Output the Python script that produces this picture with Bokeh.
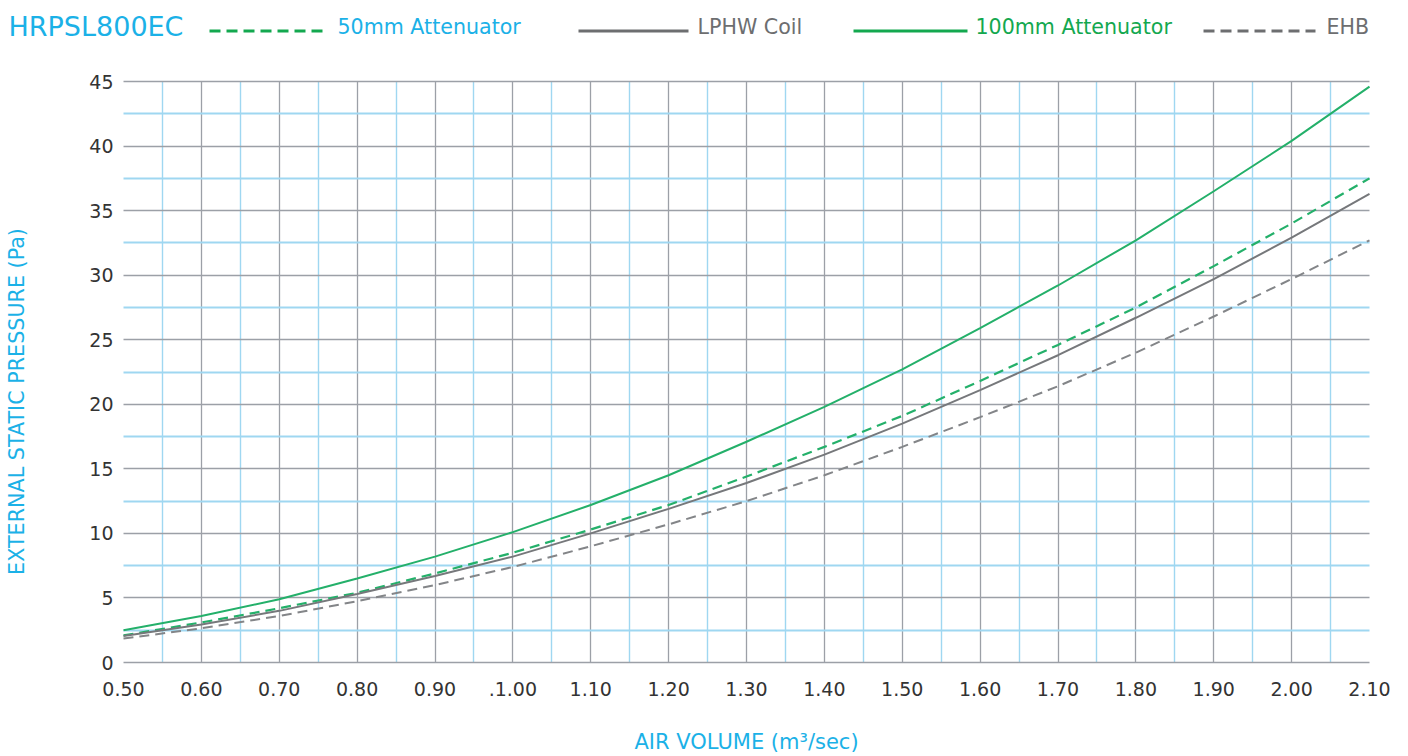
import math
from bokeh.plotting import figure
from bokeh.models import Range1d, FixedTicker
from bokeh.embed import file_html
from bokeh.resources import INLINE
from bokeh.core.properties import value

# ---------------- data ----------------
title_text = "HRPSL800EC"
series_names = ["50mm Attenuator", "LPHW Coil", "100mm Attenuator", "EHB"]

air_volume = [0.50, 0.60, 0.70, 0.80, 0.90, 1.00, 1.10, 1.20, 1.30,
              1.40, 1.50, 1.60, 1.70, 1.80, 1.90, 2.00, 2.10]
att_50mm = [2.1, 3.1, 4.2, 5.4, 6.9, 8.5, 10.3, 12.2, 14.4,
            16.7, 19.1, 21.8, 24.6, 27.5, 30.7, 34.0, 37.5]
lphw_coil = [2.05, 2.95, 4.0, 5.3, 6.7, 8.2, 10.0, 11.9, 13.9,
             16.1, 18.5, 21.1, 23.8, 26.7, 29.7, 32.9, 36.3]
att_100mm = [2.5, 3.6, 4.9, 6.5, 8.2, 10.1, 12.2, 14.5, 17.1,
             19.8, 22.7, 25.9, 29.2, 32.7, 36.5, 40.4, 44.6]
ehb = [1.85, 2.65, 3.6, 4.75, 6.0, 7.4, 9.0, 10.7, 12.5,
       14.5, 16.7, 19.0, 21.4, 24.0, 26.8, 29.7, 32.7]

x_ticks = [0.5, 0.6, 0.7, 0.8, 0.9, 1.0, 1.1, 1.2, 1.3, 1.4, 1.5, 1.6,
           1.7, 1.8, 1.9, 2.0, 2.1]
x_tick_labels = ["0.50", "0.60", "0.70", "0.80", "0.90", ".1.00", "1.10",
                 "1.20", "1.30", "1.40", "1.50", "1.60", "1.70", "1.80",
                 "1.90", "2.00", "2.10"]
x_grid_major = [0.6, 0.7, 0.8, 0.9, 1.0, 1.1, 1.2, 1.3, 1.4, 1.5, 1.6,
                1.7, 1.8, 1.9, 2.0]
x_grid_minor = [0.55, 0.65, 0.75, 0.85, 0.95, 1.05, 1.15, 1.25, 1.35,
                1.45, 1.55, 1.65, 1.75, 1.85, 1.95, 2.05]
y_ticks = [0, 5, 10, 15, 20, 25, 30, 35, 40, 45]
y_grid_minor = [2.5, 7.5, 12.5, 17.5, 22.5, 27.5, 32.5, 37.5, 42.5]

x_label = "AIR VOLUME (m³/sec)"
y_label = "EXTERNAL STATIC PRESSURE (Pa)"

# ---------------- styles / layout ----------------
FONT = "DejaVu Sans"
CYAN = "#1bb1e7"
GREEN = "#24b06a"
GREEN_LEG = "#13a84f"
GRAY = "#6d6e70"
GRAY_SOLID = "#76787b"
GRAY_DASH = "#838588"
GRID_GRAY = "#9ca0a7"
GRID_BLUE = "#9fd7f1"
TICK = "#333333"

W, H = 1400, 756
LEFT, RIGHT, TOP, BOTTOM = 123, 1369, 81, 662      # data-area edges, canvas px
X0, X1, Y0, Y1 = 0.5, 2.1, 0.0, 45.0
PXX = (RIGHT - LEFT) / (X1 - X0)
PXY = (BOTTOM - TOP) / (Y1 - Y0)


def cx(px):
    """canvas x pixel -> data x"""
    return X0 + (px - LEFT) / PXX


def cy(py):
    """canvas y pixel (from top) -> data y"""
    return Y0 + (BOTTOM - py) / PXY


# The frame covers the whole canvas so that header texts can be drawn;
# grid lines and axes are bounded to the data area.
p = figure(width=W, height=H,
           x_range=Range1d(cx(0), cx(W)), y_range=Range1d(cy(H), cy(0)),
           toolbar_location=None, output_backend="svg",
           min_border_left=0, min_border_right=0,
           min_border_top=0, min_border_bottom=0)
p.outline_line_color = None

# grids
p.xgrid.ticker = FixedTicker(ticks=x_grid_major, minor_ticks=x_grid_minor)
p.ygrid.ticker = FixedTicker(ticks=y_ticks, minor_ticks=y_grid_minor)
p.xgrid.cross_bounds = (Y0, Y1)
p.ygrid.cross_bounds = (X0, X1)
p.xgrid.grid_line_width = 1.3
p.xgrid.minor_grid_line_width = 1.4
p.ygrid.grid_line_width = 1.4
p.ygrid.minor_grid_line_width = 1.8
for g in (p.xgrid[0], p.ygrid[0]):
    g.grid_line_color = GRID_GRAY
    g.minor_grid_line_color = GRID_BLUE

# axes, fixed to the data-area edges
p.xaxis.fixed_location = Y0
p.yaxis.fixed_location = X0
p.xaxis.bounds = (X0, X1)
p.yaxis.bounds = (Y0, Y1)
p.xaxis.ticker = FixedTicker(ticks=x_ticks, minor_ticks=[])
p.xaxis.major_label_overrides = dict(zip(x_ticks, x_tick_labels))
p.yaxis.ticker = FixedTicker(ticks=y_ticks, minor_ticks=[])
for ax in (p.xaxis[0], p.yaxis[0]):
    ax.axis_line_color = None
    ax.major_tick_line_color = None
    ax.minor_tick_line_color = None
    ax.major_tick_out = 0
    ax.major_tick_in = 0
    ax.major_label_text_font = FONT
    ax.major_label_text_font_size = "19px"
    ax.major_label_text_color = TICK
p.yaxis.major_label_standoff = 10
p.xaxis.major_label_standoff = 19

p.xaxis.axis_label = x_label
p.xaxis.axis_label_text_font = FONT
p.xaxis.axis_label_text_font_size = "21px"
p.xaxis.axis_label_text_font_style = "normal"
p.xaxis.axis_label_text_color = CYAN
p.xaxis.axis_label_standoff = 31

# y axis title (sits a little below the centre of the data area, as in the reference)
p.text(x=[cx(16)], y=[cy(401)], text=[y_label], angle=math.pi / 2,
       text_align="center", text_baseline="middle", text_font=value(FONT),
       text_font_size="20.7px", text_color=CYAN)

# header: title + legend
p.text(x=[cx(8)], y=[cy(26)], text=[title_text], text_align="left",
       text_baseline="middle", text_font=value(FONT),
       text_font_size="27px", text_color=CYAN)

leg_line_x0 = [209, 578, 853, 1203]
leg_line_x1 = [323, 688, 967, 1315]
leg_text_x = [337, 697, 975, 1326]
leg_colors = [GREEN_LEG, GRAY, GREEN_LEG, GRAY]
leg_dash = ["11 6", "solid", "solid", "11 6"]
leg_text_colors = [CYAN, GRAY, GREEN_LEG, GRAY]
for i in range(4):
    p.segment(x0=[cx(leg_line_x0[i])], y0=[cy(30.5)],
              x1=[cx(leg_line_x1[i])], y1=[cy(30.5)],
              line_color=leg_colors[i], line_width=3, line_dash=leg_dash[i])
    p.text(x=[cx(leg_text_x[i])], y=[cy(26)], text=[series_names[i]],
           text_align="left", text_baseline="middle",
           text_font=value(FONT), text_font_size="20.6px",
           text_color=leg_text_colors[i])

# curves
p.line(air_volume, att_100mm, line_color=GREEN, line_width=2)
p.line(air_volume, att_50mm, line_color=GREEN, line_width=2.2, line_dash="10 6")
p.line(air_volume, lphw_coil, line_color=GRAY_SOLID, line_width=2)
p.line(air_volume, ehb, line_color=GRAY_DASH, line_width=2, line_dash="10 6")

open("out.html", "w").write(file_html(p, INLINE))
